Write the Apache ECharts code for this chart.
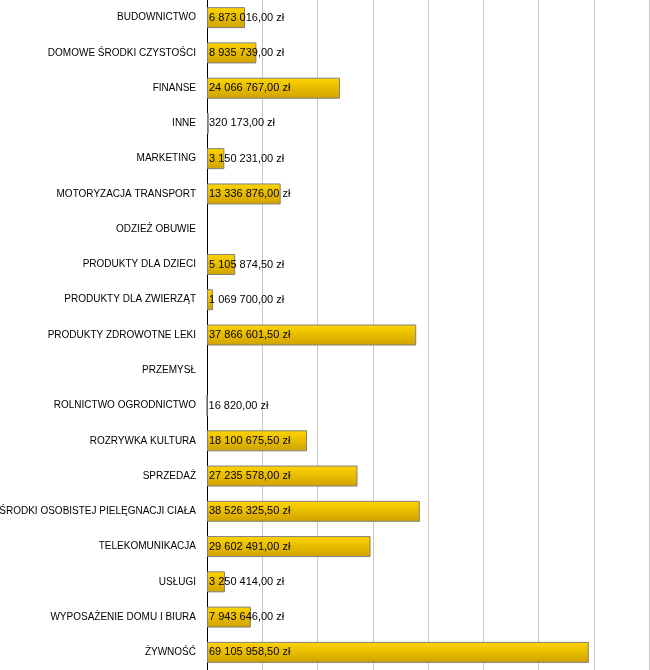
<!DOCTYPE html>
<html>
<head>
<meta charset="utf-8">
<script src="https://cdn.jsdelivr.net/npm/echarts@6/dist/echarts.min.js"></script>
<style>
  html, body { margin: 0; padding: 0; background: #fff; }
  #chart { width: 650px; height: 670px; }
</style>
</head>
<body>
<div id="chart"></div>
<script>
// branże
var categories = [
  'BUDOWNICTWO', 'DOMOWE ŚRODKI CZYSTOŚCI', 'FINANSE', 'INNE', 'MARKETING',
  'MOTORYZACJA TRANSPORT', 'ODZIEŻ OBUWIE', 'PRODUKTY DLA DZIECI', 'PRODUKTY DLA ZWIERZĄT',
  'PRODUKTY ZDROWOTNE LEKI', 'PRZEMYSŁ', 'ROLNICTWO OGRODNICTWO', 'ROZRYWKA KULTURA',
  'SPRZEDAŻ', 'ŚRODKI OSOBISTEJ PIELĘGNACJI CIAŁA', 'TELEKOMUNIKACJA', 'USŁUGI',
  'WYPOSAŻENIE DOMU I BIURA', 'ŻYWNOŚĆ'
];
// kwoty w zł (null = brak danych)
var values = [
  6873016.00, 8935739.00, 24066767.00, 320173.00, 3150231.00,
  13336876.00, null, 5105874.50, 1069700.00,
  37866601.50, null, 16820.00, 18100675.50,
  27235578.00, 38526325.50, 29602491.00, 3250414.00,
  7943646.00, 69105958.50
];
var axisMax = 80000000;
var axisStep = 10000000;

var FONT = "'Liberation Sans', Arial, sans-serif";

// 1234567.5 -> "1 234 567,50 zł"
function formatPln(v) {
  var parts = v.toFixed(2).split('.');
  var intPart = parts[0].replace(/\B(?=(\d{3})+(?!\d))/g, ' ');
  return intPart + ',' + parts[1] + ' zł';
}

var chart = echarts.init(document.getElementById('chart'));

var option = {
  animation: false,
  grid: {
    left: 207, right: 1, top: 0, bottom: 0,
    containLabel: false,
    outerBoundsMode: 'none'
  },
  xAxis: {
    type: 'value',
    min: 0,
    max: axisMax,
    interval: axisStep,
    axisLine: { show: false },
    axisTick: { show: false },
    axisLabel: { show: false },
    splitLine: { show: true, lineStyle: { color: '#c8c8c8', width: 1 } }
  },
  yAxis: {
    type: 'category',
    data: categories,
    inverse: true,
    axisLine: { show: true, lineStyle: { color: '#000', width: 1 } },
    axisTick: { show: false },
    axisLabel: {
      margin: 11,
      color: '#000',
      fontSize: 10,
      fontFamily: FONT
    }
  },
  series: [{
    type: 'bar',
    data: values,
    barWidth: 21,
    itemStyle: {
      color: new echarts.graphic.LinearGradient(0, 0, 0, 1, [
        { offset: 0, color: '#ffd500' },
        { offset: 1, color: '#cfa200' }
      ]),
      borderColor: '#808080',
      borderWidth: 1
    },
    label: {
      show: true,
      position: 'insideLeft',
      distance: 2,
      color: '#000',
      fontSize: 11,
      fontFamily: FONT,
      formatter: function (p) {
        if (p.value == null) {
          return '';
        }
        return formatPln(p.value);
      }
    }
  }]
};

chart.setOption(option);
</script>
</body>
</html>
